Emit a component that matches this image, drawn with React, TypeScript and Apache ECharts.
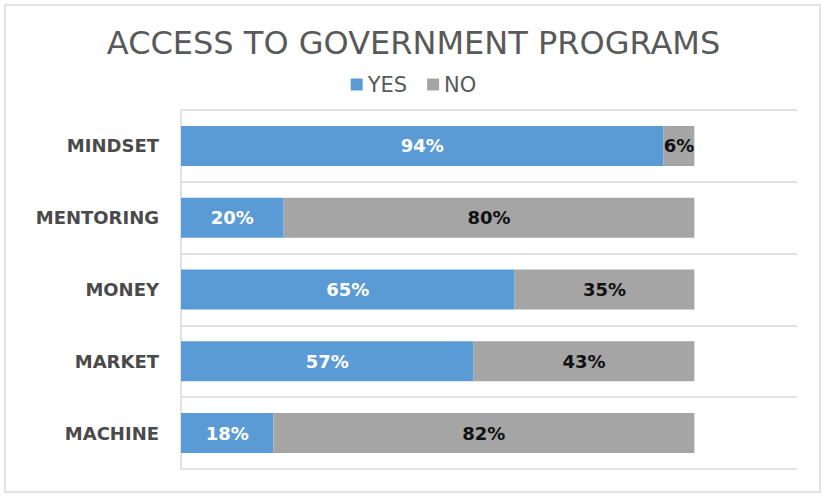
import React, { useEffect, useRef } from "react";
import * as echarts from "echarts";

const categories = ["MINDSET", "MENTORING", "MONEY", "MARKET", "MACHINE"];
const yesValues = [94, 20, 65, 57, 18];
const noValues = [6, 80, 35, 43, 82];
const seriesNames = ["YES", "NO"];

export default function App() {
  const ref = useRef<HTMLDivElement>(null);
  useEffect(() => {
    if (!ref.current) return;
    const chart = echarts.init(ref.current, undefined, { renderer: "svg" });
    chart.setOption({
      animation: false,
      backgroundColor: "#ffffff",
      title: {
        text: "ACCESS TO GOVERNMENT PROGRAMS",
        left: "center",
        top: 22,
        textStyle: {
          fontFamily: "DejaVu Sans",
          fontSize: 32,
          fontWeight: "normal",
          color: "#595959",
        },
      },
      legend: {
        top: 69,
        left: "center",
        itemWidth: 12,
        itemHeight: 12,
        itemGap: 20,
        icon: "rect",
        textStyle: {
          fontFamily: "DejaVu Sans",
          fontSize: 21,
          color: "#595959",
        },
        data: seriesNames,
      },
      graphic: [
        {
          type: "rect",
          shape: { x: 5, y: 5, width: 815, height: 487 },
          style: { fill: "none", stroke: "#d9d9d9", lineWidth: 1.5 },
          silent: true,
        },
      ],
      grid: { left: 181, right: 30, top: 110, bottom: 28 },
      xAxis: {
        type: "value",
        min: 0,
        max: 120,
        show: false,
        splitLine: { show: false },
      },
      yAxis: {
        type: "category",
        data: categories,
        inverse: true,
        axisLine: { show: true, lineStyle: { color: "#d9d9d9", width: 1.5 } },
        axisTick: { show: false },
        splitLine: { show: true, lineStyle: { color: "#d9d9d9", width: 1.5 } },
        axisLabel: {
          margin: 22,
          fontFamily: "DejaVu Sans",
          fontSize: 18,
          fontWeight: "bold",
          color: "#4a4a4a",
        },
      },
      series: [
        {
          name: seriesNames[0],
          type: "bar",
          stack: "total",
          barWidth: 40,
          data: yesValues,
          itemStyle: { color: "#5B9BD5" },
          label: {
            show: true,
            position: "inside",
            formatter: "{c}%",
            fontFamily: "DejaVu Sans",
            fontSize: 18,
            fontWeight: "bold",
            color: "#ffffff",
          },
        },
        {
          name: seriesNames[1],
          type: "bar",
          stack: "total",
          barWidth: 40,
          data: noValues,
          itemStyle: { color: "#A5A5A5" },
          label: {
            show: true,
            position: "inside",
            formatter: "{c}%",
            fontFamily: "DejaVu Sans",
            fontSize: 18,
            fontWeight: "bold",
            color: "#111111",
          },
        },
      ],
    });
    return () => chart.dispose();
  }, []);
  return (
    <div
      ref={ref}
      style={{ position: "absolute", left: 0, top: 0, width: 827, height: 497 }}
    />
  );
}
